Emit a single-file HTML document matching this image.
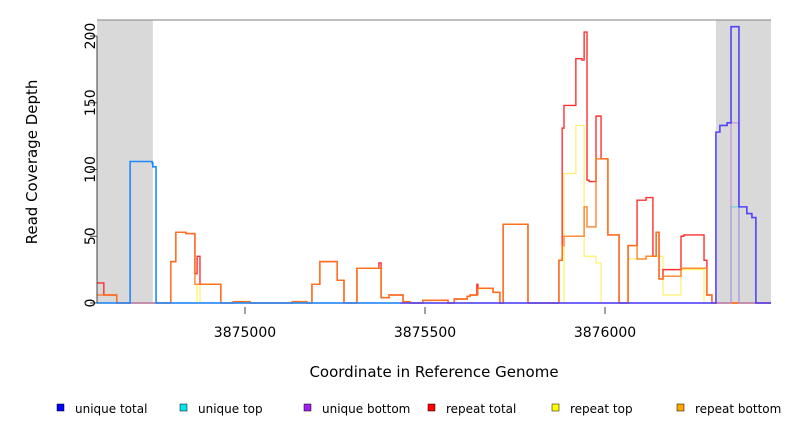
<!DOCTYPE html>
<html><head><meta charset="utf-8"><style>
body{margin:0;background:#fff;font-family:"Liberation Sans","DejaVu Sans",sans-serif}
svg text{font-family:"DejaVu Sans","Liberation Sans",sans-serif}
</style></head><body>
<svg id="chart" width="792" height="432">
<g id="bg"></g><g id="series"></g><g id="axes"></g><g id="legend"></g>
</svg>
<script>
const xDomain=[3874589,3876461];
const yDomain=[0,212];
const grayRegions=[[3874589,3874744],[3876308,3876461]];
const xTicks=[3875000,3875500,3876000];
const yTicks=[0,50,100,150,200];
const seriesNames=["unique total","unique top","unique bottom","repeat total","repeat top","repeat bottom"];
const seriesColors=["#0000ff","#00e5ee","#a020f0","#ff0000","#ffff00","#ffa500"];
const endCoord=3876461;
const redStarts=[3874589,3874608,3874644,3874794,3874808,3874836,3874861,3874867,3874875,3874933,3874967,3875014,3875131,3875172,3875186,3875208,3875256,3875275,3875311,3875372,3875378,3875400,3875439,3875458,3875494,3875564,3875581,3875617,3875625,3875644,3875647,3875689,3875708,3875717,3875786,3875872,3875881,3875886,3875919,3875936,3875942,3875950,3875956,3875975,3875989,3876008,3876039,3876064,3876089,3876114,3876133,3876142,3876150,3876161,3876211,3876219,3876275,3876283,3876297];
const redValues=[15,6,0,31,53,52,22,35,14,0,1,0,1,0,14,31,17,0,26,30,4,6,1,0,2,0,3,5,6,14,11,8,0,59,0,32,131,148,183,182,203,92,91,140,108,51,0,43,77,79,35,53,18,25,50,51,32,6,0];
const orangeStarts=[3874589,3874608,3874644,3874794,3874808,3874836,3874861,3874875,3874933,3874967,3875014,3875131,3875172,3875186,3875208,3875256,3875275,3875311,3875378,3875400,3875439,3875458,3875494,3875564,3875581,3875617,3875625,3875647,3875689,3875708,3875717,3875786,3875872,3875881,3875886,3875942,3875950,3875975,3876008,3876039,3876064,3876089,3876114,3876142,3876150,3876161,3876211,3876283,3876297];
const orangeValues=[6,6,0,31,53,52,14,14,0,1,0,1,0,14,31,17,0,26,4,6,1,0,2,0,3,5,6,11,8,0,59,0,32,43,50,72,57,108,51,0,43,33,35,53,18,20,26,6,0];
const yellowStarts=[3874589,3874867,3874875,3875886,3875919,3875942,3875975,3875989,3876064,3876114,3876161,3876211,3876275];
const yellowValues=[0,14,0,97,133,35,30,0,33,35,6,25,0];
const blueStarts=[3874589,3874681,3874742,3874744,3874753,3876308,3876319,3876339,3876350,3876372,3876394,3876408,3876419];
const blueValues=[0,106,105,102,0,128,133,135,207,72,67,64,0];
const cyanStarts=[3874589,3876350,3876372];
const cyanValues=[0,72,0];
const purpleStarts=[3874589,3876350,3876372];
const purpleValues=[0,135,0];

const L=97,R=771,T=20,B=303;
const X=c=>L+(c-xDomain[0])/(xDomain[1]-xDomain[0])*(R-L);
const Y=v=>B-(v-yDomain[0])/(yDomain[1]-yDomain[0])*(B-T);
const NS="http://www.w3.org/2000/svg";
function mk(t,a,p){const e=document.createElementNS(NS,t);for(const k in a)e.setAttribute(k,a[k]);p.appendChild(e);return e;}
const bg=document.getElementById('bg'),sg=document.getElementById('series'),ax=document.getElementById('axes'),lg=document.getElementById('legend');
grayRegions.forEach(r=>{const e=mk('rect',{x:X(r[0]),y:T,width:X(r[1])-X(r[0]),height:B-T,fill:'#d9d9d9'},bg);

});
function step(starts,vals,color,name,w,op,from,to){let d='';for(let i=0;i<starts.length;i++){const x0=X(starts[i]),x1=X(i+1<starts.length?starts[i+1]:endCoord),y=Y(vals[i]);d+=(i?'L':'M')+x0+','+y+'L'+x1+','+y;}
const p=mk('path',{d:d,fill:'none',stroke:color,'stroke-width':w,opacity:op},sg);


return p;}
step(yellowStarts,yellowValues,'#ffee44','repeat-top-line',1.2,0.8);
step(redStarts,redValues,'#ff1a1a','repeat-total-line',1.4,0.9);
step(orangeStarts,orangeValues,'#ff7a1a','repeat-bottom-line',1.5,0.85);
step(cyanStarts,cyanValues,'#55dddd','unique-top-line',1.2,0.8);
step(purpleStarts,purpleValues,'#c080e0','unique-bottom-line',1.2,0.8);
// unique total, left part lighter blue, right part blue-violet
const clipL=mk('clipPath',{id:'cl'},sg);mk('rect',{x:0,y:0,width:400,height:432},clipL);
const clipR=mk('clipPath',{id:'cr'},sg);mk('rect',{x:400,y:0,width:392,height:432},clipR);
step(blueStarts,blueValues,'#1e88ff','unique-total-line-left',1.6,1).setAttribute('clip-path','url(#cl)');
step(blueStarts,blueValues,'#4433ff','unique-total-line-right',1.6,0.9).setAttribute('clip-path','url(#cr)');
let fl=mk('line',{x1:L,y1:T,x2:R,y2:T,stroke:'#999','stroke-width':1.2},ax);


let yl=mk('line',{x1:L,y1:Y(0),x2:L,y2:Y(200),stroke:'#444','stroke-width':1},ax);


yTicks.forEach(v=>{const y=Y(v);const t=mk('line',{x1:L-7,y1:y,x2:L,y2:y,stroke:'#444'},ax);


const tx=mk('text',{x:0,y:0,transform:`translate(95,${y}) rotate(-90)`,'text-anchor':'middle','font-size':14,fill:'#000'},ax);tx.textContent=v;

});
xTicks.forEach(v=>{const x=X(v);const t=mk('line',{x1:x,y1:B+4,x2:x,y2:B+11,stroke:'#444'},ax);


const tx=mk('text',{x:x,y:337,'text-anchor':'middle','font-size':14,fill:'#000'},ax);tx.textContent=v;

});
let xt=mk('text',{x:434,y:377,'text-anchor':'middle','font-size':15,fill:'#000'},ax);xt.textContent='Coordinate in Reference Genome';


let yt=mk('text',{x:0,y:0,transform:'translate(37,162) rotate(-90)','text-anchor':'middle','font-size':15,fill:'#000'},ax);yt.textContent='Read Coverage Depth';


const legX=[60,183,307,431,555,680];
seriesNames.forEach((n,i)=>{const r=mk('rect',{x:legX[i]-3,y:404,width:7,height:7,fill:seriesColors[i],stroke:'#000','stroke-width':0.5},lg);


const t=mk('text',{x:legX[i]+15,y:413,'font-size':12,fill:'#000'},lg);t.textContent=n;

});
</script>
</body></html>
